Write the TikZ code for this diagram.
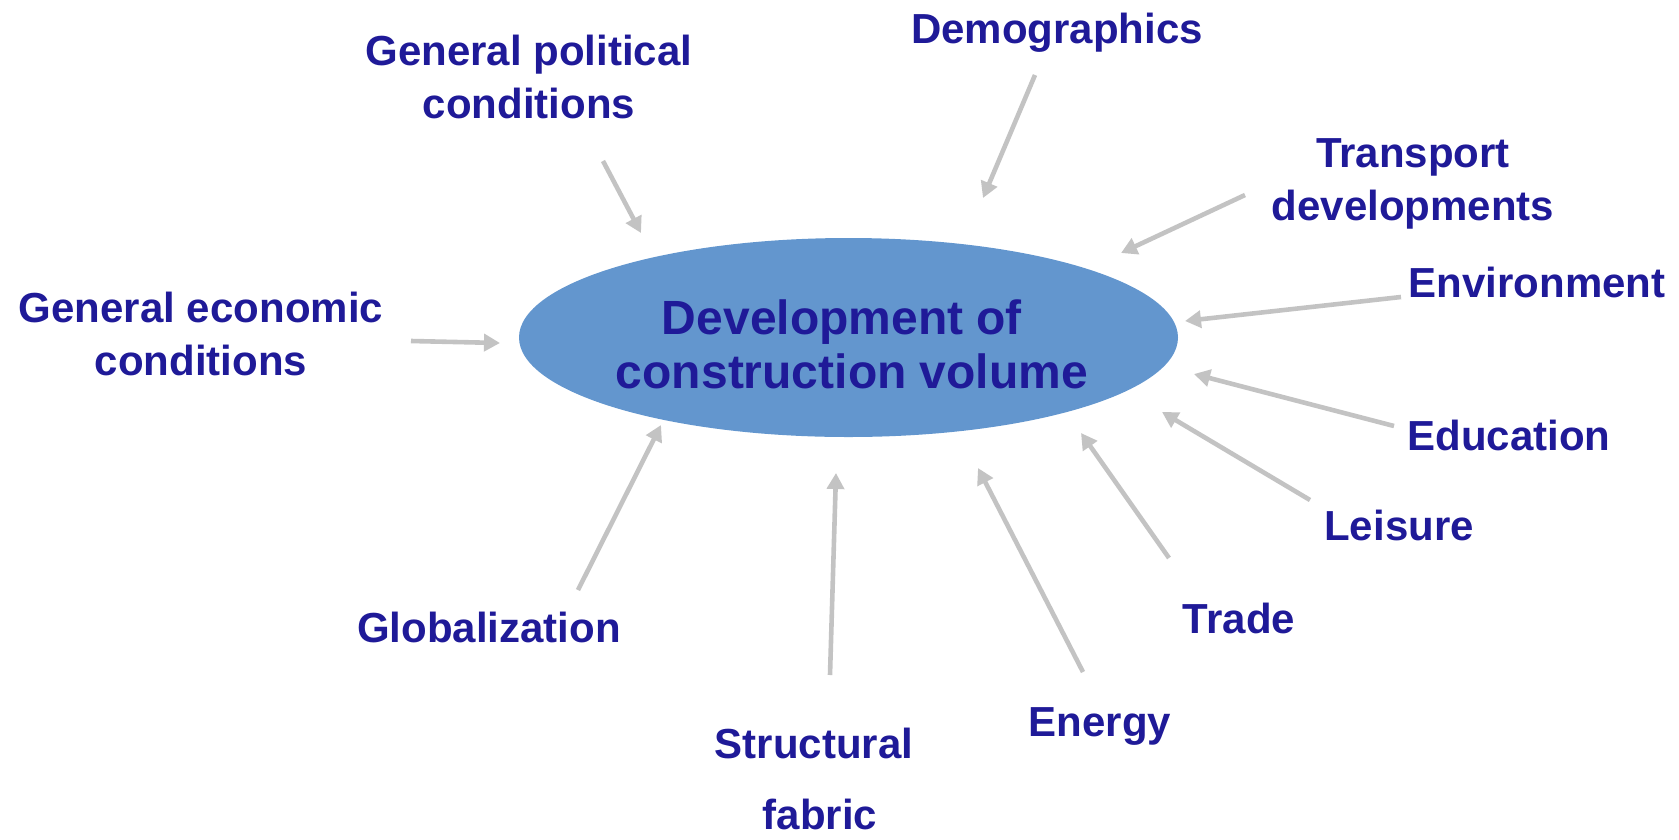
\documentclass[tikz,border=0pt]{standalone}
\usepackage{fontspec}
\setmainfont{Liberation Sans}
\usetikzlibrary{arrows.meta}
\definecolor{txtblue}{RGB}{31,26,152}
\definecolor{ellblue}{RGB}{99,150,206}
\definecolor{arrgray}{RGB}{195,195,195}
\tikzset{
  lab/.style={text=txtblue, font=\bfseries\fontsize{42}{53}\selectfont, align=center, inner sep=0pt, anchor=base},
  big/.style={text=txtblue, font=\bfseries\fontsize{48}{54}\selectfont, align=center, inner sep=0pt, anchor=base},
  arr/.style={draw=arrgray, line width=4.6pt, -{Triangle[length=16pt,width=17pt]}},
  ell/.style={ellipse, fill=ellblue, inner sep=0pt, minimum width=659pt, minimum height=199pt}
}
\usetikzlibrary{shapes.geometric}
\begin{document}
\begin{tikzpicture}[x=1pt,y=-1pt]
\useasboundingbox (0,0) rectangle (1679,839);
\node[ell] (E) at (848.5,337.5) {};
\node[big] (T1) at (842,334) {Development of};
\node[big] (T2) at (852,388) {construction volume};

\node[lab] (pol) at (529,118) {General political\\conditions};
\node[lab] (eco) at (201,375) {General economic\\conditions};
\node[lab] (dem) at (1057,43) {Demographics};
\node[lab] (tra) at (1413,220) {Transport\\developments};
\node[lab] (env) at (1537,297) {Environment};
\node[lab] (edu) at (1509,450) {Education};
\node[lab] (lei) at (1399,540) {Leisure};
\node[lab] (trd) at (1239,633) {Trade};
\node[lab] (ene) at (1100,736) {Energy};
\node[lab] (str) at (814,758) {Structural};
\node[lab] (fab) at (820,829) {fabric};
\node[lab] (glo) at (489,642) {Globalization};

\coordinate (pol0) at (603,161);  \coordinate (pol1) at (641,233);
\coordinate (dem0) at (1035,75);  \coordinate (dem1) at (983,198);
\coordinate (tra0) at (1245,195); \coordinate (tra1) at (1121,253);
\coordinate (env0) at (1401,297); \coordinate (env1) at (1185,321);
\coordinate (edu0) at (1394,426); \coordinate (edu1) at (1194,374);
\coordinate (lei0) at (1310,500); \coordinate (lei1) at (1162,412);
\coordinate (trd0) at (1169,558); \coordinate (trd1) at (1081,433);
\coordinate (ene0) at (1083,672); \coordinate (ene1) at (978,468);
\coordinate (str0) at (830,675);  \coordinate (str1) at (836,473);
\coordinate (glo0) at (578,590);  \coordinate (glo1) at (661,425);
\coordinate (eco0) at (411,341);  \coordinate (eco1) at (500,343);

\foreach \a in {pol,dem,tra,env,edu,lei,trd,ene,str,glo,eco}
  \draw[arr] (\a0) -- (\a1);
\end{tikzpicture}
\end{document}
